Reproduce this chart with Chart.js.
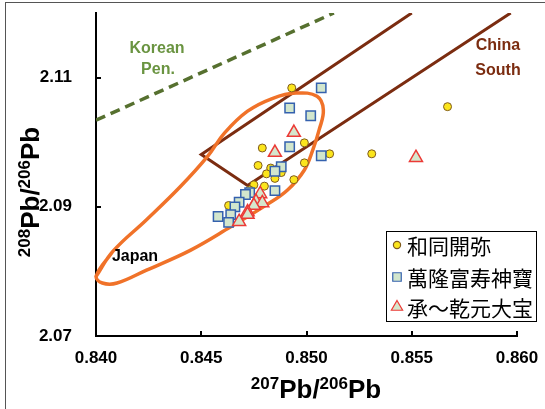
<!DOCTYPE html>
<html>
<head>
<meta charset="utf-8">
<script src="https://cdn.jsdelivr.net/npm/chart.js@4.4.1/dist/chart.umd.min.js"></script>
<style>
  html, body { margin: 0; padding: 0; background: #fff; }
  #wrap { position: relative; width: 545px; height: 409px; overflow: hidden; }
  #frame { position: absolute; left: 5px; top: 2px; width: 700px; height: 600px; border: 1px solid #555; }
  canvas { position: absolute; left: 0; top: 0; }
</style>
</head>
<body>
<div id="wrap">
  <div id="frame"></div>
  <canvas id="myChart" width="545" height="409"></canvas>
</div>
<script>
// axis ticks
var xTicks = [0.840, 0.845, 0.850, 0.855, 0.860];
var yTicks = [2.07, 2.09, 2.11];

// 和同開弥
var wadoX = [0.8493, 0.8567, 0.8499, 0.8479, 0.8511, 0.8531, 0.8477, 0.8483, 0.8488, 0.8499, 0.8481, 0.8485, 0.8494, 0.8475, 0.8480, 0.8473, 0.8463];
var wadoY = [2.1084, 2.1055, 2.0999, 2.0991, 2.0982, 2.0982, 2.0964, 2.0960, 2.0953, 2.0968, 2.0951, 2.0944, 2.0942, 2.0934, 2.0932, 2.0926, 2.0902];

// 萬隆富寿神寶
var mannenX = [0.8507, 0.8492, 0.8502, 0.8492, 0.8507, 0.8488, 0.8485, 0.8485, 0.8473, 0.8471, 0.8468, 0.8466, 0.8464, 0.8458, 0.8463];
var mannenY = [2.1084, 2.1053, 2.1041, 2.0993, 2.0979, 2.0962, 2.0955, 2.0925, 2.0922, 2.0919, 2.0907, 2.0900, 2.0888, 2.0885, 2.0876];

// 承〜乾元大宝
var kengenX = [0.8494, 0.8485, 0.8552, 0.8478, 0.8476, 0.8479, 0.8475, 0.8472, 0.8472, 0.8468];
var kengenY = [2.1015, 2.0984, 2.0976, 2.0920, 2.0908, 2.0906, 2.0902, 2.0892, 2.0888, 2.0877];

// reference fields
var koreaX = [0.8400, 0.8513];
var koreaY = [2.1034, 2.1200];
var chinaX = [0.8550, 0.8450, 0.8472, 0.8597];
var chinaY = [2.1200, 2.0981, 2.0933, 2.1200];
var japanX = [0.8400, 0.8408, 0.8424, 0.8440, 0.8453, 0.8461, 0.8472, 0.8484, 0.8495, 0.8505, 0.8508, 0.8506, 0.8503, 0.8499, 0.8491, 0.8481, 0.8464, 0.8445, 0.8424, 0.8410, 0.8403, 0.8400, 0.8408];
var japanY = [2.0792, 2.0831, 2.0880, 2.0931, 2.0978, 2.1014, 2.1048, 2.1068, 2.1076, 2.1071, 2.1050, 2.1019, 2.0988, 2.0957, 2.0926, 2.0903, 2.0869, 2.0833, 2.0802, 2.0782, 2.0782, 2.0792, 2.0831];

var seriesNames = ['和同開弥', '萬隆富寿神寶', '承〜乾元大宝'];

function pts(xs, ys) {
  return xs.map(function (x, i) { return { x: x, y: ys[i] }; });
}

var FONT = '"Liberation Sans", Arial, sans-serif';

function drawRatio(ctx, a, b) {
  var big = 'bold 26px ' + FONT;
  var small = 'bold 17px ' + FONT;
  var parts = [[a, small, -9], ['Pb/', big, 0], [b, small, -9], ['Pb', big, 0]];
  var total = 0;
  parts.forEach(function (p) { ctx.font = p[1]; p.w = ctx.measureText(p[0]).width; total += p.w; });
  var x = -total / 2;
  ctx.textAlign = 'left';
  ctx.textBaseline = 'alphabetic';
  parts.forEach(function (p) { ctx.font = p[1]; ctx.fillText(p[0], x, p[2]); x += p.w; });
}

var labelsPlugin = {
  id: 'labels',
  afterDraw: function (chart) {
    var ctx = chart.ctx;
    ctx.save();
    ctx.textAlign = 'center';
    ctx.textBaseline = 'middle';
    ctx.font = 'bold 16px ' + FONT;
    ctx.fillStyle = '#6a9441';
    ctx.fillText('Korean', 157, 49);
    ctx.fillText('Pen.', 158, 70);
    ctx.fillStyle = '#7b2c10';
    ctx.fillText('China', 498, 46);
    ctx.fillText('South', 498, 71);
    ctx.fillStyle = '#000';
    ctx.fillText('Japan', 135, 257);

    // axis titles
    ctx.save();
    ctx.translate(316, 398);
    drawRatio(ctx, '207', '206');
    ctx.restore();
    ctx.save();
    ctx.translate(39, 192);
    ctx.rotate(-Math.PI / 2);
    drawRatio(ctx, '208', '206');
    ctx.restore();

    // legend box
    ctx.fillStyle = '#fff';
    ctx.fillRect(387, 231, 150, 91);
    ctx.strokeStyle = '#000';
    ctx.lineWidth = 1;
    ctx.strokeRect(386.5, 231.5, 150, 90);
    var rows = [245, 277, 307];
    var sizes = [3.6, 6, 6.5];
    for (var i = 0; i < 3; i++) {
      var ds = chart.data.datasets[i];
      ctx.fillStyle = ds.backgroundColor;
      ctx.strokeStyle = ds.borderColor;
      ctx.lineWidth = 1.2;
      Chart.helpers.drawPoint(ctx, { pointStyle: ds.pointStyle, radius: sizes[i], borderWidth: 1.2, rotation: 0 }, 397, rows[i]);
      ctx.fillStyle = '#000';
      ctx.font = '21px "Noto Sans CJK JP", sans-serif';
      ctx.textAlign = 'left';
      ctx.textBaseline = 'middle';
      ctx.fillText(ds.label, 407, rows[i] + 1);
    }
    ctx.restore();
  }
};

function noPad(s) {
  s.paddingTop = 0; s.paddingBottom = 0; s.paddingLeft = 0; s.paddingRight = 0;
}

var ctx = document.getElementById('myChart');
var myChart = new Chart(ctx, {
  type: 'scatter',
  data: {
    datasets: [
      {
        label: seriesNames[0],
        data: pts(wadoX, wadoY),
        pointStyle: 'circle',
        pointRadius: 4,
        backgroundColor: '#fbe51c',
        borderColor: '#7f5a1e',
        borderWidth: 1,
        order: 2
      },
      {
        label: seriesNames[1],
        data: pts(mannenX, mannenY),
        pointStyle: 'rect',
        pointRadius: 6.6,
        backgroundColor: '#d2e6cd',
        borderColor: '#3461ae',
        borderWidth: 1.5,
        order: 1
      },
      {
        label: seriesNames[2],
        data: pts(kengenX, kengenY),
        pointStyle: 'triangle',
        pointRadius: 7.5,
        backgroundColor: '#d6e6cc',
        borderColor: '#ec3a36',
        borderWidth: 1.5,
        order: 0
      },
      {
        label: 'Japan',
        data: pts(japanX, japanY),
        showLine: true,
        tension: 0.4,
        pointRadius: 0,
        borderColor: '#f07229',
        borderWidth: 3.5,
        fill: false,
        clip: false,
        order: 3
      },
      {
        label: 'China South',
        data: pts(chinaX, chinaY),
        showLine: true,
        pointRadius: 0,
        borderColor: '#7b2c10',
        borderWidth: 3,
        fill: false,
        order: 4
      },
      {
        label: 'Korean Pen.',
        data: pts(koreaX, koreaY),
        showLine: true,
        pointRadius: 0,
        borderColor: '#56702f',
        borderWidth: 3.5,
        borderDash: [10, 6],
        fill: false,
        order: 5
      }
    ]
  },
  options: {
    responsive: false,
    devicePixelRatio: 1,
    animation: false,
    layout: { padding: { top: 13, right: 28, left: 0, bottom: 0 } },
    plugins: {
      legend: { display: false },
      tooltip: { enabled: false }
    },
    scales: {
      x: {
        type: 'linear',
        min: 0.840,
        max: 0.860,
        afterBuildTicks: function (s) { s.ticks = xTicks.map(function (v) { return { value: v }; }); },
        afterFit: function (s) { s.height = 73; noPad(s); },
        grid: { drawOnChartArea: false, drawTicks: true, tickLength: -5, color: '#000', lineWidth: 2 },
        border: { display: true, color: '#000', width: 2 },
        ticks: {
          color: '#000',
          font: { family: FONT, size: 17, weight: 'bold' },
          padding: 17,
          maxRotation: 0,
          autoSkip: false,
          callback: function (v) { return v.toFixed(3); }
        }
      },
      y: {
        type: 'linear',
        min: 2.07,
        max: 2.12,
        afterBuildTicks: function (s) { s.ticks = yTicks.map(function (v) { return { value: v }; }); },
        afterFit: function (s) { s.width = 96; noPad(s); },
        grid: { drawOnChartArea: false, drawTicks: true, tickLength: -5, color: '#000', lineWidth: 2 },
        border: { display: true, color: '#000', width: 2 },
        ticks: {
          color: '#000',
          font: { family: FONT, size: 17, weight: 'bold' },
          padding: 29,
          autoSkip: false,
          callback: function (v) { return v.toFixed(2); }
        }
      }
    }
  },
  plugins: [labelsPlugin]
});
</script>
</body>
</html>
